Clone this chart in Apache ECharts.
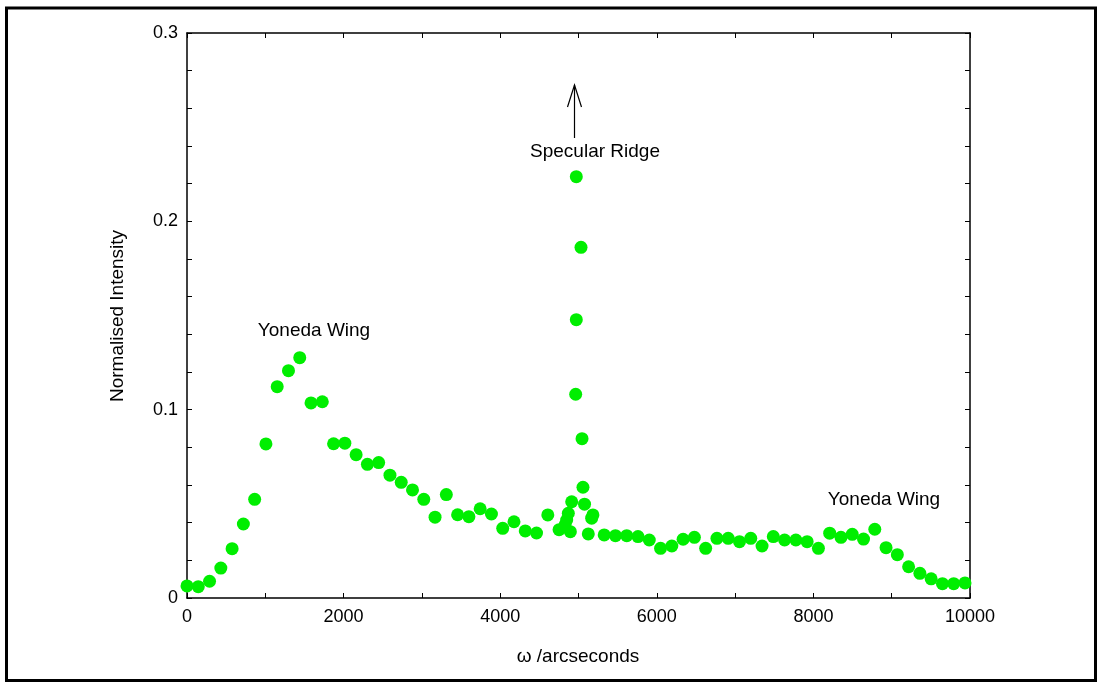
<!DOCTYPE html>
<html>
<head>
<meta charset="utf-8">
<script src="https://cdn.jsdelivr.net/npm/echarts@6.0.0/dist/echarts.min.js"></script>
<style>
  html, body { margin: 0; padding: 0; background: #fff; }
  #chart { width: 1098px; height: 682px; }
</style>
</head>
<body>
<div id="chart"></div>
<script>
// regular omega scan, arcseconds vs normalised intensity
const scanX = [0, 144, 288, 432, 576, 720, 864, 1008, 1152, 1296,
  1440, 1584, 1728, 1872, 2016, 2160, 2304, 2448, 2592, 2736,
  2880, 3024, 3168, 3312, 3456, 3600, 3744, 3888, 4032, 4176,
  4320, 4464, 4608, 4752, 4896, 5184, 5328, 5472, 5616, 5760,
  5904, 6048, 6192, 6336, 6480, 6624, 6768, 6912, 7056, 7200,
  7344, 7488, 7632, 7776, 7920, 8064, 8208, 8352, 8496, 8640,
  8784, 8928, 9072, 9216, 9360, 9504, 9648, 9792, 9936]
const scanY = [0.0064, 0.0060, 0.0089, 0.0159, 0.0262, 0.0393, 0.0524, 0.0818, 0.1122, 0.1207,
  0.1276, 0.1036, 0.1042, 0.0819, 0.0822, 0.0761, 0.0710, 0.0719, 0.0652, 0.0614,
  0.0574, 0.0524, 0.0429, 0.0549, 0.0442, 0.0432, 0.0474, 0.0446, 0.0370, 0.0405,
  0.0356, 0.0345, 0.0441, 0.0363, 0.0352, 0.0441, 0.0335, 0.0331, 0.0331, 0.0326,
  0.0308, 0.0264, 0.0276, 0.0312, 0.0322, 0.0264, 0.0317, 0.0317, 0.0299, 0.0317,
  0.0276, 0.0326, 0.0308, 0.0308, 0.0299, 0.0264, 0.0344, 0.0322, 0.0338, 0.0313,
  0.0365, 0.0267, 0.0230, 0.0166, 0.0131, 0.0102, 0.0076, 0.0076, 0.0080]

// finer points across the specular ridge
const specX = [4972, 5032, 4972, 4964, 5045, 5057, 4913, 5077, 4870, 4849, 4828, 5168, 5125]
const specY = [0.2237, 0.1862, 0.1478, 0.1082, 0.0846, 0.0588, 0.0511, 0.0498, 0.0450, 0.0414, 0.0388, 0.0424, 0.0340]

const xTicks = [0, 2000, 4000, 6000, 8000, 10000]
const yTicks = ['0', '0.1', '0.2', '0.3']

const FONT = '"Liberation Sans", Arial, Helvetica, sans-serif'
const GREEN = '#00ee00'

const chart = echarts.init(document.getElementById('chart'), null, { renderer: 'canvas' })

const frameAxis = {
  axisLine: { show: true, onZero: false, lineStyle: { color: '#000', width: 1.5 } },
  axisTick: { show: true, inside: true, length: 5, lineStyle: { color: '#000', width: 1 } },
  splitLine: { show: false },
}

const xLabel = v => xTicks.includes(Math.round(v)) ? String(Math.round(v)) : ''
const yLabel = v => {
  const s = String(Math.round(v * 100) / 100)
  return yTicks.includes(s) ? s : ''
}

const points = [
  ...scanX.map((x, i) => [x, scanY[i]]),
  ...specX.map((x, i) => [x, specY[i]]),
]

const text = (x, y, s, rotation = 0) => ({
  type: 'text', x, y, rotation, silent: true,
  style: { text: s, font: `19px ${FONT}`, fill: '#000', align: 'center', verticalAlign: 'middle' },
})

chart.setOption({
  backgroundColor: '#fff',
  animation: false,
  grid: { left: 187, right: 128, top: 33, bottom: 84 },
  xAxis: [
    { type: 'value', min: 0, max: 10000, interval: 1000, position: 'bottom', ...frameAxis,
      axisLabel: { color: '#000', fontSize: 18, fontFamily: FONT, margin: 10, formatter: xLabel } },
    { type: 'value', min: 0, max: 10000, interval: 1000, position: 'top', ...frameAxis,
      axisLabel: { show: false } },
  ],
  yAxis: [
    { type: 'value', min: 0, max: 0.3, interval: 0.02, position: 'left', ...frameAxis,
      axisLabel: { color: '#000', fontSize: 18, fontFamily: FONT, margin: 9, formatter: yLabel } },
    { type: 'value', min: 0, max: 0.3, interval: 0.02, position: 'right', ...frameAxis,
      axisLabel: { show: false } },
  ],
  series: [{
    type: 'scatter',
    data: points,
    symbol: 'circle',
    symbolSize: 13,
    itemStyle: { color: GREEN, opacity: 1 },
  }],
  graphic: [
    { type: 'rect', shape: { x: 6.5, y: 8, width: 1089, height: 672.5 },
      style: { fill: 'none', stroke: '#000', lineWidth: 3 }, silent: true },
    text(578, 657, 'ω /arcseconds'),
    text(118, 316, 'Normalised Intensity', Math.PI / 2),
    text(314, 331, 'Yoneda Wing'),
    text(884, 500, 'Yoneda Wing'),
    text(595, 152, 'Specular Ridge'),
    { type: 'line', shape: { x1: 574.5, y1: 138, x2: 574.5, y2: 85 },
      style: { stroke: '#000', lineWidth: 1.2 }, silent: true },
    { type: 'polyline', shape: { points: [[567.5, 107], [574.5, 85], [581.5, 107]] },
      style: { stroke: '#000', fill: 'none', lineWidth: 1.2 }, silent: true },
  ],
})
</script>
</body>
</html>
